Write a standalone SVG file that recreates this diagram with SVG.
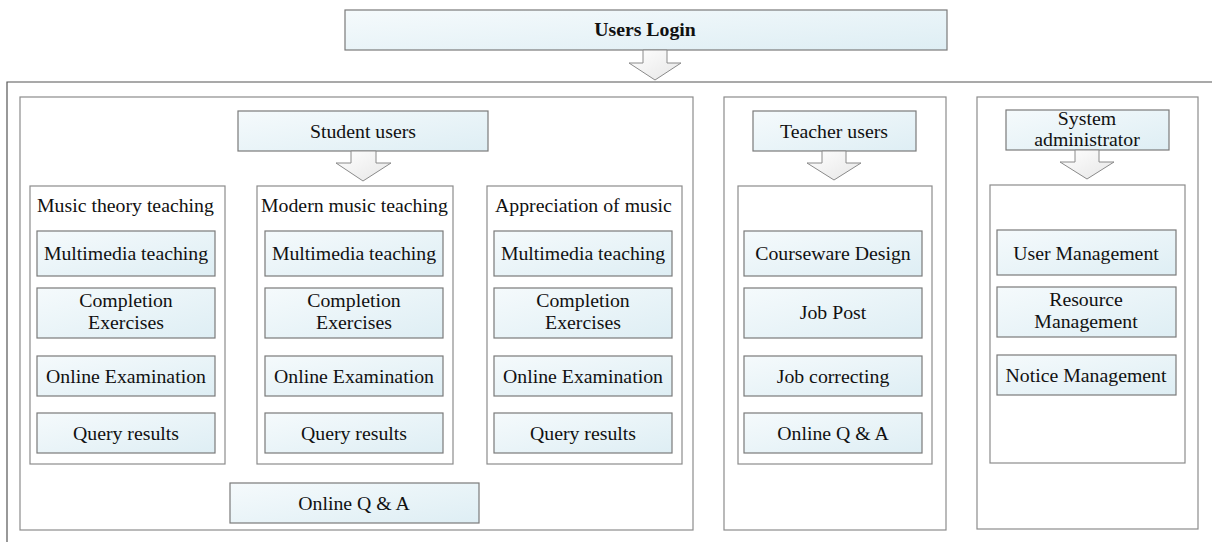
<svg xmlns="http://www.w3.org/2000/svg" width="1212" height="542" viewBox="0 0 1212 542">
<defs>
<linearGradient id="bf" x1="0" y1="0" x2="1" y2="1">
<stop offset="0" stop-color="#f5fafc"/>
<stop offset="1" stop-color="#deeef4"/>
</linearGradient>
<linearGradient id="af" x1="0" y1="0" x2="1" y2="1">
<stop offset="0" stop-color="#ffffff"/>
<stop offset="1" stop-color="#e6e6e6"/>
</linearGradient>
</defs>
<style>
.box{fill:url(#bf);stroke:#7a7a7a;stroke-width:1.2}
.panel{fill:#fff;stroke:#8c8c8c;stroke-width:1.2}
.frame{fill:none;stroke:#555;stroke-width:1.2}
.arr{fill:url(#af);stroke:#8a8a8a;stroke-width:1}
text{font-family:"Liberation Serif","Times New Roman",serif;font-size:19.8px;fill:#111;text-anchor:middle;dominant-baseline:central;transform:translate(0px,-1px)}
.t{text-anchor:start}
.b{font-weight:bold}
</style>
<rect width="1212" height="542" fill="#fff"/>
<path class="frame" d="M7,542 V82 H1212"/>

<g id="users-login"><rect class="box" x="345" y="10" width="602" height="40"/><text class="b" x="645" y="30">Users Login</text></g>

<g id="student-panel"><rect class="panel" x="20" y="97" width="673" height="433"/></g>
<g id="student-users"><rect class="box" x="238" y="111" width="250" height="40"/><text x="363" y="132">Student users</text></g>

<g id="music-theory"><rect class="panel" x="30" y="186" width="195" height="278"/><text class="t" x="37" y="206">Music theory teaching</text></g>
<g id="mt-multimedia"><rect class="box" x="37" y="231" width="178" height="45"/><text x="126" y="254">Multimedia teaching</text></g>
<g id="mt-completion"><rect class="box" x="37" y="288" width="178" height="50"/><text x="126" y="301">Completion</text><text x="126" y="323">Exercises</text></g>
<g id="mt-exam"><rect class="box" x="37" y="356" width="178" height="40"/><text x="126" y="377">Online Examination</text></g>
<g id="mt-query"><rect class="box" x="37" y="413" width="178" height="40"/><text x="126" y="434">Query results</text></g>

<g id="modern-music"><rect class="panel" x="257" y="186" width="196" height="278"/><text class="t" x="261" y="206">Modern music teaching</text></g>
<g id="mm-multimedia"><rect class="box" x="265" y="231" width="178" height="45"/><text x="354" y="254">Multimedia teaching</text></g>
<g id="mm-completion"><rect class="box" x="265" y="288" width="178" height="50"/><text x="354" y="301">Completion</text><text x="354" y="323">Exercises</text></g>
<g id="mm-exam"><rect class="box" x="265" y="356" width="178" height="40"/><text x="354" y="377">Online Examination</text></g>
<g id="mm-query"><rect class="box" x="265" y="413" width="178" height="40"/><text x="354" y="434">Query results</text></g>

<g id="appreciation"><rect class="panel" x="487" y="186" width="195" height="278"/><text class="t" x="495" y="206">Appreciation of music</text></g>
<g id="ap-multimedia"><rect class="box" x="494" y="231" width="178" height="45"/><text x="583" y="254">Multimedia teaching</text></g>
<g id="ap-completion"><rect class="box" x="494" y="288" width="178" height="50"/><text x="583" y="301">Completion</text><text x="583" y="323">Exercises</text></g>
<g id="ap-exam"><rect class="box" x="494" y="356" width="178" height="40"/><text x="583" y="377">Online Examination</text></g>
<g id="ap-query"><rect class="box" x="494" y="413" width="178" height="40"/><text x="583" y="434">Query results</text></g>

<g id="student-qa"><rect class="box" x="230" y="483" width="249" height="40"/><text x="354" y="504">Online Q &amp; A</text></g>

<g id="teacher-panel"><rect class="panel" x="724" y="97" width="222" height="433"/></g>
<g id="teacher-users"><rect class="box" x="753" y="111" width="163" height="40"/><text x="834" y="132">Teacher users</text></g>
<g id="teacher-inner"><rect class="panel" x="738" y="186" width="194" height="278"/></g>
<g id="courseware"><rect class="box" x="744" y="231" width="178" height="45"/><text x="833" y="254">Courseware Design</text></g>
<g id="job-post"><rect class="box" x="744" y="288" width="178" height="50"/><text x="833" y="313">Job Post</text></g>
<g id="job-correct"><rect class="box" x="744" y="356" width="178" height="40"/><text x="833" y="377">Job correcting</text></g>
<g id="teacher-qa"><rect class="box" x="744" y="413" width="178" height="40"/><text x="833" y="434">Online Q &amp; A</text></g>

<g id="admin-panel"><rect class="panel" x="977" y="97" width="221" height="432"/></g>
<g id="sys-admin"><rect class="box" x="1006" y="110" width="163" height="40"/><text x="1087" y="119">System</text><text x="1087" y="140">administrator</text></g>
<g id="admin-inner"><rect class="panel" x="990" y="185" width="195" height="278"/></g>
<g id="user-mgmt"><rect class="box" x="997" y="230" width="179" height="45"/><text x="1086" y="254">User Management</text></g>
<g id="res-mgmt"><rect class="box" x="997" y="287" width="179" height="50"/><text x="1086" y="300">Resource</text><text x="1086" y="322">Management</text></g>
<g id="notice-mgmt"><rect class="box" x="997" y="355" width="179" height="40"/><text x="1086" y="376">Notice Management</text></g>

<g id="connectors">
<path class="arr" d="M643,50 H667 V63 H681 L655,80 L629,63 H643 Z"/>
<path class="arr" d="M351,151 H376 V163 H391 L363,181 L336,163 H351 Z"/>
<path class="arr" d="M822,151 H846 V163 H861 L834,180 L807,163 H822 Z"/>
<path class="arr" d="M1075,150 H1099 V162 H1114 L1087,179 L1060,162 H1075 Z"/>
</g>
</svg>
